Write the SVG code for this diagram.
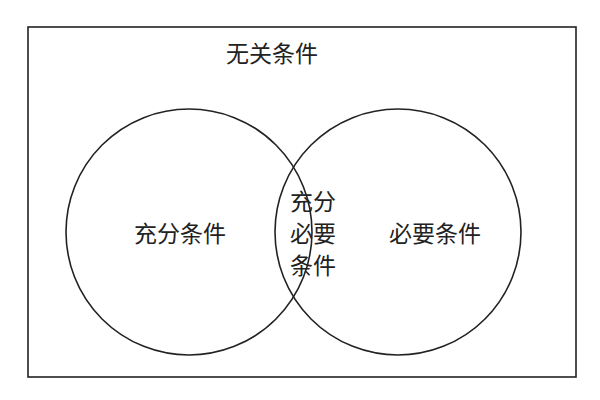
<svg xmlns="http://www.w3.org/2000/svg" width="600" height="400" viewBox="0 0 600 400">
<style>
.s{fill:none;stroke:#222;stroke-width:1.6}
text{font-family:"Noto Sans CJK SC",sans-serif;font-size:23px;fill:#222;text-anchor:middle;dominant-baseline:central}
</style>
<rect width="600" height="400" fill="#fff"/>
<g id="universe"><rect class="s" x="28" y="27" width="548" height="350"/><text x="272" y="52">无关条件</text></g>
<g id="sufficient"><circle class="s" cx="189" cy="232" r="123"/><text x="180" y="232">充分条件</text></g>
<g id="necessary"><circle class="s" cx="398" cy="232" r="123"/><text x="435" y="232">必要条件</text></g>
<g id="both"><text x="313" y="200">充分</text><text x="313" y="232">必要</text><text x="313" y="264">条件</text></g>
<g id="connectors"></g>
</svg>
